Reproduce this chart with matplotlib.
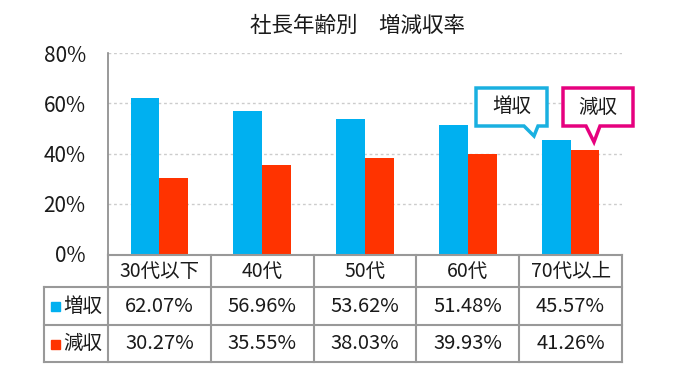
import matplotlib
matplotlib.use("Agg")
import matplotlib.pyplot as plt
import matplotlib.patches as mpatches
from matplotlib.transforms import blended_transform_factory

plt.rcParams["font.family"] = ["Noto Sans CJK JP", "DejaVu Sans"]

categories = ["30代以下", "40代", "50代", "60代", "70代以上"]
increase = [62.07, 56.96, 53.62, 51.48, 45.57]
decrease = [30.27, 35.55, 38.03, 39.93, 41.26]
series_names = ["増収", "減収"]
yticks = [0, 20, 40, 60, 80]

BLUE = "#00b0f0"
RED = "#ff3300"
CYAN_EDGE = "#1ab0e0"
MAGENTA = "#e6007e"
GRID = "#999999"
TXT = "#1a1a1a"

W, H = 680, 382
fig = plt.figure(figsize=(6.8, 3.82), dpi=100, facecolor="white")


def fx(x):
    return x / W


def fy(y):
    return 1 - y / H


# plot area in pixels: x 108..622, y 53..254
ax = fig.add_axes([fx(108), fy(254), (622 - 108) / W, (254 - 53) / H])
n = len(categories)
xs = list(range(n))
bw = 0.28
ax.bar([x - bw / 2 for x in xs], increase, width=bw, color=BLUE, zorder=3)
ax.bar([x + bw / 2 for x in xs], decrease, width=bw, color=RED, zorder=3)

ax.set_xlim(-0.5, n - 0.5)
ax.set_ylim(0, 80)
ax.set_yticks(yticks)
ax.set_yticklabels([f"{v}%" for v in yticks], fontsize=15, color=TXT)
ax.tick_params(axis="y", length=0, pad=16)
ax.set_xticks([])
for v in yticks[1:]:
    ax.axhline(v, color="#cccccc", lw=1, ls=(0, (2, 2)), zorder=1)
for s in ["top", "right", "bottom"]:
    ax.spines[s].set_visible(False)
ax.spines["left"].set_color("#888888")
ax.spines["left"].set_linewidth(1.2)

fig.text(fx(357), fy(26), "社長年齢別　増減収率", ha="center", va="center",
         fontsize=15.5, color=TXT)

# ---- data table drawn below the axes ----
tr = blended_transform_factory(ax.transData, fig.transFigure)
rows_y = [255, 287, 325, 362]   # row boundaries in pixels
left_px = 44
lw = 1.5

def hline(y, x0, x1):
    fig.add_artist(plt.Line2D([fx(x0), fx(x1)], [fy(y), fy(y)], color=GRID, lw=lw))

def vline(x, y0, y1):
    fig.add_artist(plt.Line2D([fx(x), fx(x)], [fy(y0), fy(y1)], color=GRID, lw=lw))

hline(rows_y[0], 108, 622)
for y in rows_y[1:]:
    hline(y, left_px, 622)
vline(left_px, rows_y[1], rows_y[3])
col_px = [108 + i * (622 - 108) / n for i in range(n + 1)]
for x in col_px:
    vline(x, rows_y[0], rows_y[3])

def rmid(i):
    return fy((rows_y[i] + rows_y[i + 1]) / 2)

for i, c in enumerate(categories):
    ax.text(i, rmid(0), c, transform=tr, ha="center", va="center",
            fontsize=14, color=TXT)
    ax.text(i, rmid(1), f"{increase[i]:.2f}%", transform=tr, ha="center",
            va="center", fontsize=14.5, color=TXT)
    ax.text(i, rmid(2), f"{decrease[i]:.2f}%", transform=tr, ha="center",
            va="center", fontsize=14.5, color=TXT)

for r, (name, col) in enumerate(zip(series_names, [BLUE, RED])):
    yc = (rows_y[r + 1] + rows_y[r + 2]) / 2
    fig.add_artist(mpatches.Rectangle((fx(51), fy(yc + 5)), 9 / W, 9 / H,
                                      color=col, transform=fig.transFigure))
    fig.text(fx(63), fy(yc), name, ha="left", va="center", fontsize=14,
             color=TXT)

# ---- callout balloons ----
def balloon(x0, y0, x1, y1, tail, edge, label):
    xb, tip = tail
    pts = [(x0, y0), (x1, y0), (x1, y1), (xb + 8, y1), tip, (xb - 6, y1), (x0, y1)]
    poly = mpatches.Polygon([(fx(px), fy(py)) for px, py in pts], closed=True,
                            transform=fig.transFigure, facecolor="white",
                            edgecolor=edge, lw=2.5, joinstyle="miter", zorder=5)
    fig.add_artist(poly)
    fig.text(fx((x0 + x1) / 2), fy((y0 + y1) / 2), label, ha="center",
             va="center", fontsize=14, color=TXT, zorder=6)

balloon(476, 88, 547, 126, (530, (534, 136)), CYAN_EDGE, series_names[0])
balloon(563, 88, 633, 126, (592, (594, 142)), MAGENTA, series_names[1])

fig.savefig("out.png", dpi=100, facecolor="white")
